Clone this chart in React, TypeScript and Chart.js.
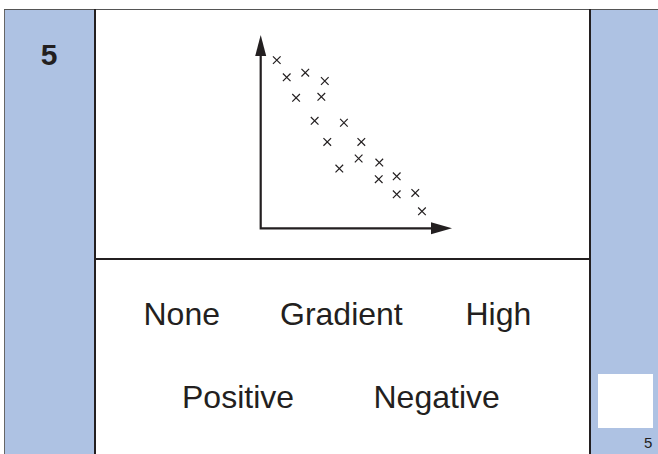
import React, { useEffect, useRef } from "react";
import { Chart, registerables } from "chart.js";

Chart.register(...registerables);

// Scatter values (arbitrary units, axes 0..10, no ticks)
const xValues = [0.84, 1.36, 2.33, 3.35, 1.85, 3.17, 2.82, 4.35, 3.48, 5.26, 5.12, 4.11, 6.2, 6.17, 7.11, 7.11, 8.08, 8.43];
const yValues = [8.7, 7.81, 8.05, 7.62, 6.75, 6.8, 5.56, 5.46, 4.47, 4.47, 3.61, 3.09, 3.4, 2.54, 2.69, 1.76, 1.83, 0.88];
const axisRange = [0, 10];

const questionNumber = "5";
const answerRow1 = ["None", "Gradient", "High"];
const answerRow2 = ["Positive", "Negative"];

const BLUE = "#aec2e3";
const INK = "#231f20";
const FONT = '"Liberation Sans", Arial, Helvetica, sans-serif';

const arrowAxes = {
  id: "arrowAxes",
  beforeDatasetsDraw(chart: any) {
    const { ctx, chartArea } = chart;
    const { left, right, top, bottom } = chartArea;
    ctx.save();
    ctx.strokeStyle = INK;
    ctx.fillStyle = INK;
    ctx.lineWidth = 2.2;
    ctx.beginPath();
    ctx.moveTo(left, top + 12);
    ctx.lineTo(left, bottom);
    ctx.lineTo(right - 12, bottom);
    ctx.stroke();
    // up arrow
    ctx.beginPath();
    ctx.moveTo(left, top);
    ctx.lineTo(left - 5.5, top + 21);
    ctx.lineTo(left + 5.5, top + 21);
    ctx.closePath();
    ctx.fill();
    // right arrow
    ctx.beginPath();
    ctx.moveTo(right, bottom);
    ctx.lineTo(right - 21, bottom - 6);
    ctx.lineTo(right - 21, bottom + 6);
    ctx.closePath();
    ctx.fill();
    ctx.restore();
  },
};

function Txt({ x, baseline, size, weight, children }: any) {
  return (
    <span
      style={{
        position: "absolute",
        left: x,
        top: baseline - 0.8465 * size,
        fontFamily: FONT,
        fontSize: size,
        fontWeight: weight || 400,
        lineHeight: 1,
        color: INK,
        whiteSpace: "nowrap",
      }}
    >
      {children}
    </span>
  );
}

function Box({ l, t, w, h, bg }: any) {
  return <div style={{ position: "absolute", left: l, top: t, width: w, height: h, background: bg }} />;
}

export default function App() {
  const ref = useRef<HTMLCanvasElement>(null);

  useEffect(() => {
    if (!ref.current) return;
    const points = xValues.map((x, i) => ({ x, y: yValues[i] }));
    const chart = new Chart(ref.current, {
      type: "scatter",
      data: {
        datasets: [
          {
            data: points,
            pointStyle: "crossRot",
            pointRadius: 5.4,
            pointHoverRadius: 5.4,
            borderColor: INK,
            borderWidth: 1.2,
            backgroundColor: INK,
            clip: false as any,
          },
        ],
      },
      options: {
        animation: false,
        responsive: false,
        events: [],
        layout: { padding: { left: 20.7, right: 18, top: 10, bottom: 11.7 } },
        plugins: { legend: { display: false }, tooltip: { enabled: false } },
        scales: {
          x: { type: "linear", min: axisRange[0], max: axisRange[1], display: false },
          y: { type: "linear", min: axisRange[0], max: axisRange[1], display: false },
        },
      },
      plugins: [arrowAxes],
    });
    return () => chart.destroy();
  }, []);

  return (
    <div style={{ position: "fixed", left: 0, top: 0, width: 658, height: 454, background: "#fff", overflow: "hidden" }}>
      {/* left blue column */}
      <Box l={4} t={9} w={91} h={445} bg={BLUE} />
      <Box l={4} t={9} w={1} h={445} bg="#666" />
      {/* right blue column */}
      <Box l={590} t={9} w={68} h={445} bg={BLUE} />
      {/* top border */}
      <Box l={4} t={8.5} w={654} h={1.5} bg="#555" />
      {/* vertical dividers */}
      <Box l={94} t={9} w={2} h={445} bg={INK} />
      <Box l={588.5} t={9} w={2} h={445} bg={INK} />
      {/* horizontal divider */}
      <Box l={96} t={257.5} w={493} h={2} bg={INK} />
      {/* answer box */}
      <Box l={598} t={374} w={55} h={54} bg="#fff" />

      <Txt x={40.8} baseline={65} size={30} weight={700}>{questionNumber}</Txt>
      <Txt x={644} baseline={448} size={15}>{questionNumber}</Txt>

      <Txt x={143.5} baseline={325} size={32}>{answerRow1[0]}</Txt>
      <Txt x={280} baseline={325} size={32}>{answerRow1[1]}</Txt>
      <Txt x={465.5} baseline={325} size={32}>{answerRow1[2]}</Txt>
      <Txt x={182} baseline={408} size={32}>{answerRow2[0]}</Txt>
      <Txt x={373.5} baseline={408} size={32}>{answerRow2[1]}</Txt>

      <canvas
        ref={ref}
        width={230}
        height={215}
        style={{ position: "absolute", left: 240, top: 25, width: 230, height: 215 }}
      />
    </div>
  );
}
